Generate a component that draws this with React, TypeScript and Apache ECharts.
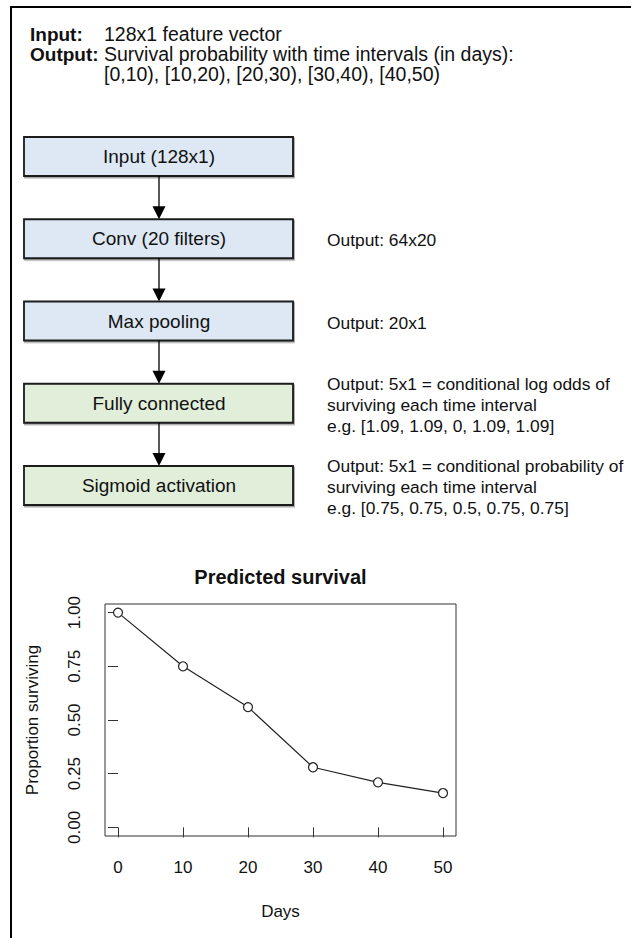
import React, { useEffect, useRef } from "react";
import * as echarts from "echarts";

// ---- data ----
const days = [0, 10, 20, 30, 40, 50];
const survival = [1.0, 0.75, 0.56, 0.28, 0.21, 0.16];
const xTicks = [0, 10, 20, 30, 40, 50];
const yTicks = [0, 0.25, 0.5, 0.75, 1.0];

const headerLabels = ["Input:", "Output:"];
const headerLines = [
  "128x1 feature vector",
  "Survival probability with time intervals (in days):",
  "[0,10), [10,20), [20,30), [30,40), [40,50)",
];

const layers = ["Input (128x1)", "Conv (20 filters)", "Max pooling", "Fully connected", "Sigmoid activation"];
const layerKinds = ["blue", "blue", "blue", "green", "green"];
const layerNotes: string[][] = [
  [],
  ["Output: 64x20"],
  ["Output: 20x1"],
  ["Output: 5x1 = conditional log odds of", "surviving each time interval", "e.g. [1.09, 1.09, 0, 1.09, 1.09]"],
  ["Output: 5x1 = conditional probability of", "surviving each time interval", "e.g. [0.75, 0.75, 0.5, 0.75, 0.75]"],
];

const FONT = "'Liberation Sans', Arial, Helvetica, sans-serif";
const INK = "#111111";

function buildGraphic() {
  const els: any[] = [];
  // frame
  els.push({ type: "line", shape: { x1: 10, y1: 7, x2: 631, y2: 7 }, style: { stroke: "#000", lineWidth: 2 } });
  els.push({ type: "line", shape: { x1: 11, y1: 6, x2: 11, y2: 938 }, style: { stroke: "#000", lineWidth: 2 } });

  // header
  const hy = [34, 54, 74];
  headerLabels.forEach((t, i) => {
    els.push({
      type: "text",
      x: 30,
      y: hy[i],
      style: { text: t, font: `bold 19px ${FONT}`, fill: INK, textVerticalAlign: "middle" },
    });
  });
  headerLines.forEach((t, i) => {
    els.push({
      type: "text",
      x: 104,
      y: hy[i],
      style: { text: t, font: `19.5px ${FONT}`, fill: INK, textVerticalAlign: "middle" },
    });
  });

  const BX = 24, BW = 269, BH = 39, TOP0 = 137, STEP = 82.25, CX = 159;
  layers.forEach((name, i) => {
    const top = TOP0 + i * STEP;
    const fill = layerKinds[i] === "blue" ? "#dde8f4" : "#e1eed9";
    els.push({
      type: "rect",
      shape: { x: BX, y: top, width: BW, height: BH },
      style: {
        fill,
        stroke: "#1a1a1a",
        lineWidth: 1.8,
        shadowColor: "rgba(0,0,0,0.35)",
        shadowOffsetX: 1,
        shadowOffsetY: 1.5,
        shadowBlur: 1,
      },
    });
    els.push({
      type: "text",
      x: CX,
      y: top + BH / 2,
      style: { text: name, font: `19px ${FONT}`, fill: INK, textAlign: "center", textVerticalAlign: "middle" },
    });
    if (i < layers.length - 1) {
      const next = TOP0 + (i + 1) * STEP;
      els.push({ type: "line", shape: { x1: CX, y1: top + BH, x2: CX, y2: next - 12 }, style: { stroke: "#000", lineWidth: 1.3 } });
      els.push({
        type: "polygon",
        shape: { points: [[CX - 6.5, next - 13], [CX + 6.5, next - 13], [CX, next]] },
        style: { fill: "#000" },
      });
    }
    const notes = layerNotes[i];
    notes.forEach((t, k) => {
      els.push({
        type: "text",
        x: 327,
        y: top + 21 + (k - (notes.length - 1) / 2) * 21,
        style: { text: t, font: `17.4px ${FONT}`, fill: INK, textVerticalAlign: "middle" },
      });
    });
  });
  return els;
}

export default function App() {
  const ref = useRef<HTMLDivElement>(null);
  useEffect(() => {
    if (!ref.current) return;
    const chart = echarts.init(ref.current, undefined, { renderer: "svg" });
    chart.setOption({
      animation: false,
      backgroundColor: "#ffffff",
      title: {
        text: "Predicted survival",
        left: 280.5,
        top: 567,
        padding: 0,
        textAlign: "center",
        textStyle: { fontFamily: FONT, fontSize: 20, fontWeight: "bold", color: INK },
      },
      grid: { left: 105, top: 604, width: 351, height: 232, show: true, borderColor: "#333", borderWidth: 1, containLabel: false },
      xAxis: {
        type: "value",
        min: -2,
        max: 52,
        name: "Days",
        nameLocation: "middle",
        nameGap: 67,
        nameTextStyle: { fontFamily: FONT, fontSize: 17, color: INK },
        axisLine: { show: false },
        splitLine: { show: false },
        axisTick: { show: true, length: 10, customValues: xTicks, lineStyle: { color: "#333", width: 1 } },
        axisLabel: { customValues: xTicks, fontFamily: FONT, fontSize: 17, color: INK, margin: 23 },
      },
      yAxis: {
        type: "value",
        min: -0.04,
        max: 1.04,
        name: "Proportion surviving",
        nameLocation: "middle",
        nameGap: 64,
        nameRotate: 90,
        nameTextStyle: { fontFamily: FONT, fontSize: 17, color: INK },
        axisLine: { show: false },
        splitLine: { show: false },
        axisTick: { show: true, length: 10, customValues: yTicks, lineStyle: { color: "#333", width: 1 } },
        axisLabel: {
          customValues: yTicks,
          rotate: 90,
          fontFamily: FONT,
          fontSize: 17,
          color: INK,
          margin: 22,
          formatter: (v: number) => v.toFixed(2),
        },
      },
      series: [
        {
          type: "line",
          data: days.map((d, i) => [d, survival[i]]),
          symbol: "circle",
          symbolSize: 9,
          itemStyle: { color: "#ffffff", borderColor: "#222", borderWidth: 1.2 },
          lineStyle: { color: "#222", width: 1.2 },
          z: 3,
        },
      ],
      graphic: buildGraphic(),
    });
    return () => chart.dispose();
  }, []);
  return <div ref={ref} style={{ position: "absolute", left: 0, top: 0, width: 631, height: 938 }} />;
}
